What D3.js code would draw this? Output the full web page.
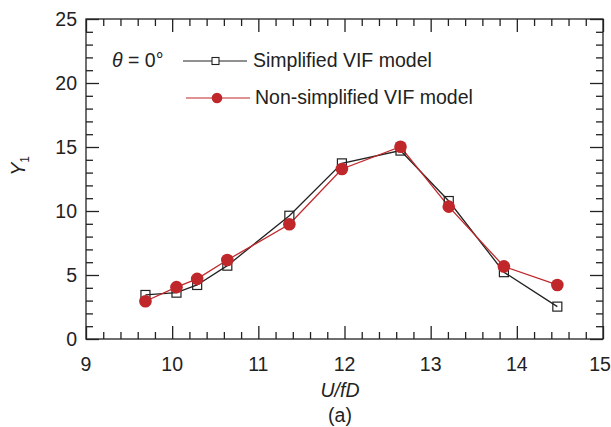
<!DOCTYPE html>
<html>
<head>
<meta charset="utf-8">
<script src="https://cdn.jsdelivr.net/npm/d3@7"></script>
<style>
  html, body { margin: 0; padding: 0; background: #fff; }
  svg { display: block; font-family: "Liberation Sans", Arial, sans-serif; }
</style>
</head>
<body>
<svg id="chart" width="611" height="427"></svg>
<script>
// Reduced velocity U/fD at each test point
const reducedVelocity = [9.69, 10.05, 10.29, 10.64, 11.36, 11.97, 12.65, 13.21, 13.85, 14.47];
// Response amplitude Y1 for the two VIF model variants
const simplifiedY1 = [3.44, 3.62, 4.22, 5.73, 9.63, 13.72, 14.72, 10.78, 5.22, 2.53];
const nonSimplifiedY1 = [2.95, 4.05, 4.70, 6.17, 8.96, 13.28, 15.02, 10.34, 5.67, 4.22];
const xTickLabels = [9, 10, 11, 12, 13, 14, 15];
const yTickLabels = [0, 5, 10, 15, 20, 25];
const seriesNames = ["Simplified VIF model", "Non-simplified VIF model"];

const svg = d3.select("#chart");
const plotLeft = 86, plotRight = 603, plotTop = 19, plotBottom = 339;
const fs = 19.5;

const x = d3.scaleLinear().domain([9, 15]).range([plotLeft, plotRight]);
const y = d3.scaleLinear().domain([0, 25]).range([plotBottom, plotTop]);

const black = "#222";
const red = "#c0272b";

// Frame
svg.append("rect")
  .attr("x", plotLeft).attr("y", plotTop)
  .attr("width", plotRight - plotLeft).attr("height", plotBottom - plotTop)
  .attr("fill", "none").attr("stroke", black).attr("stroke-width", 1.3);

const xMinor = d3.range(9, 15.0001, 0.2).map(v => +v.toFixed(2)).filter(v => !xTickLabels.includes(v));
const yMinor = d3.range(0, 25.0001, 1).filter(v => !yTickLabels.includes(v));

function tickAxis(axisFactory, scale, major, minor) {
  return g => {
    g.call(axisFactory(scale).tickValues(major).tickSizeInner(13).tickSizeOuter(0).tickFormat(() => ""));
    g.select(".domain").remove();
    g.selectAll("line").attr("stroke", black).attr("stroke-width", 1.3);
    const m = g.append("g");
    m.call(axisFactory(scale).tickValues(minor).tickSizeInner(7).tickSizeOuter(0).tickFormat(() => ""));
    m.select(".domain").remove();
    m.selectAll("line").attr("stroke", black).attr("stroke-width", 1.3);
  };
}

// Inward ticks on all four sides
svg.append("g").attr("transform", `translate(0,${plotBottom})`)
  .call(tickAxis(d3.axisTop, x, xTickLabels, xMinor));
svg.append("g").attr("transform", `translate(0,${plotTop})`)
  .call(tickAxis(d3.axisBottom, x, xTickLabels, xMinor));
svg.append("g").attr("transform", `translate(${plotLeft},0)`)
  .call(tickAxis(d3.axisRight, y, yTickLabels, yMinor));
svg.append("g").attr("transform", `translate(${plotRight},0)`)
  .call(tickAxis(d3.axisLeft, y, yTickLabels, yMinor));

// Tick labels
svg.append("g").selectAll("text").data(xTickLabels).join("text")
  .attr("x", d => Math.min(x(d), 600)).attr("y", 371)
  .attr("text-anchor", "middle").attr("font-size", fs).attr("fill", black)
  .text(d => d);
svg.append("g").selectAll("text").data(yTickLabels).join("text")
  .attr("x", plotLeft - 9).attr("y", d => y(d) + 7)
  .attr("text-anchor", "end").attr("font-size", fs).attr("fill", black)
  .text(d => d);

// Axis titles
svg.append("text")
  .attr("x", 340).attr("y", 397)
  .attr("text-anchor", "middle").attr("font-size", fs).attr("font-style", "italic").attr("fill", black)
  .text("U/fD");
svg.append("text")
  .attr("x", 340).attr("y", 422)
  .attr("text-anchor", "middle").attr("font-size", fs).attr("fill", black)
  .text("(a)");
const yl = svg.append("text")
  .attr("transform", `translate(25,166) rotate(-90)`)
  .attr("text-anchor", "middle").attr("font-size", fs).attr("font-style", "italic").attr("fill", black);
yl.append("tspan").text("Y");
yl.append("tspan").attr("font-size", 12).attr("font-style", "normal").attr("dy", 4).text("1");

// Series
const pts = s => reducedVelocity.map((v, i) => [v, s[i]]);
const line = d3.line().x(d => x(d[0])).y(d => y(d[1]));

svg.append("path").datum(pts(simplifiedY1))
  .attr("d", line).attr("fill", "none").attr("stroke", black).attr("stroke-width", 1.3);
svg.append("path").datum(pts(nonSimplifiedY1))
  .attr("d", line).attr("fill", "none").attr("stroke", red).attr("stroke-width", 1.3);

svg.append("g").selectAll("rect").data(pts(simplifiedY1)).join("rect")
  .attr("x", d => x(d[0]) - 4.5).attr("y", d => y(d[1]) - 4.5)
  .attr("width", 9).attr("height", 9)
  .attr("fill", "none").attr("stroke", black).attr("stroke-width", 1.2);
svg.append("g").selectAll("circle").data(pts(nonSimplifiedY1)).join("circle")
  .attr("cx", d => x(d[0])).attr("cy", d => y(d[1])).attr("r", 6.3)
  .attr("fill", red);

// Legend
svg.append("text")
  .attr("x", 112).attr("y", 67).attr("font-size", fs).attr("fill", black)
  .html('<tspan font-style="italic">θ</tspan> = 0°');

const lg = svg.append("g");
lg.append("line").attr("x1", 183).attr("x2", 247).attr("y1", 61).attr("y2", 61)
  .attr("stroke", black).attr("stroke-width", 1.2);
lg.append("rect").attr("x", 212).attr("y", 57.5).attr("width", 7).attr("height", 7)
  .attr("fill", "#fff").attr("stroke", black).attr("stroke-width", 1.1);
lg.append("text").attr("x", 253).attr("y", 67).attr("font-size", fs).attr("fill", black)
  .text(seriesNames[0]);

lg.append("line").attr("x1", 186).attr("x2", 250).attr("y1", 98).attr("y2", 98)
  .attr("stroke", red).attr("stroke-width", 1.2);
lg.append("circle").attr("cx", 217).attr("cy", 98).attr("r", 5.3).attr("fill", red);
lg.append("text").attr("x", 255).attr("y", 104).attr("font-size", fs).attr("fill", black)
  .text(seriesNames[1]);
</script>
</body>
</html>
